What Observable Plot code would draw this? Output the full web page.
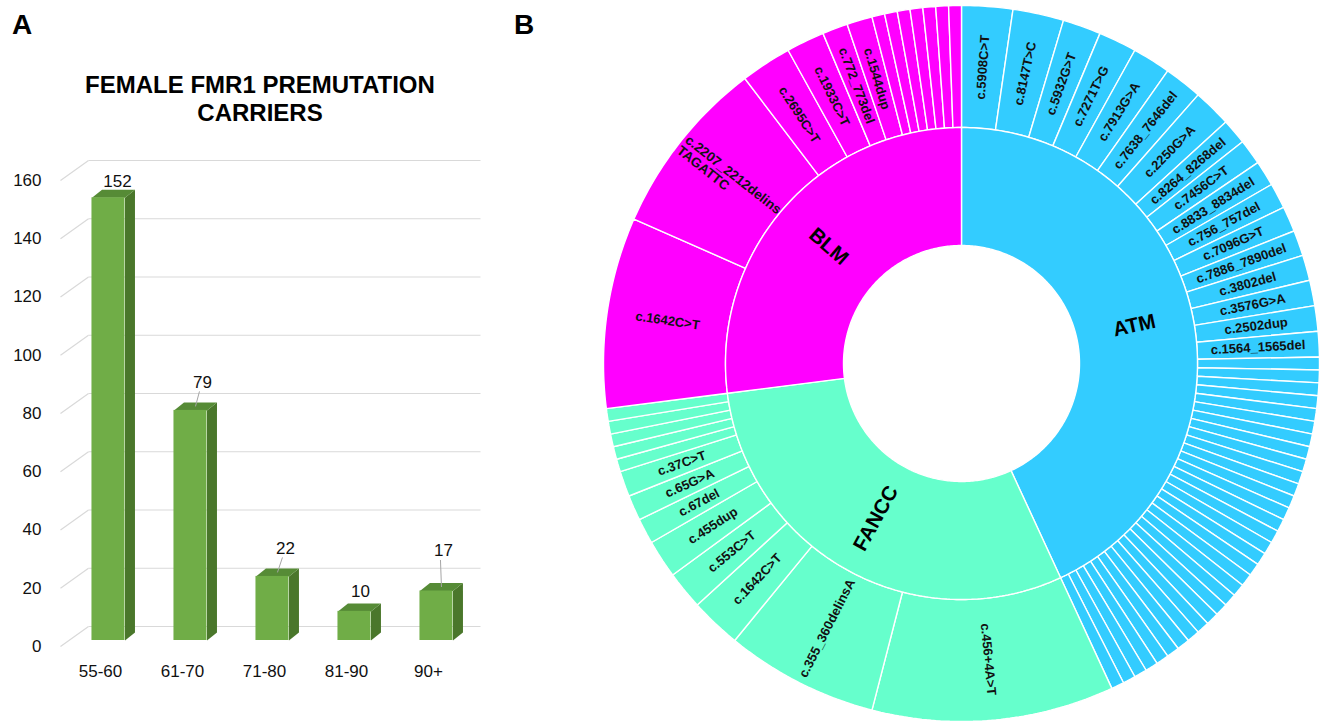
<!DOCTYPE html>
<html>
<head>
<meta charset="utf-8">
<script src="https://cdn.jsdelivr.net/npm/d3@7"></script>
<script src="https://cdn.jsdelivr.net/npm/@observablehq/plot@0.6"></script>
<style>
  html, body { margin: 0; padding: 0; background: #fff; }
  body { font-family: "Liberation Sans", Arial, sans-serif; }
  #wrap { position: relative; width: 1325px; height: 721px; overflow: hidden; }
  .panel { position: absolute; font-weight: bold; font-size: 28px; line-height: 28px; color: #000; }
  #title { position: absolute; left: 60px; width: 400px; top: 71px; text-align: center;
           font-weight: bold; font-size: 24px; line-height: 28px; color: #000; }
  #barchart { position: absolute; left: 0; top: 131px; }
  #sunburst { position: absolute; left: 600px; top: 0; }
</style>
</head>
<body>
<div id="wrap">
  <div class="panel" style="left:12px;top:11px;">A</div>
  <div class="panel" style="left:514px;top:11px;">B</div>
  <div id="title">FEMALE FMR1 PREMUTATION<br>CARRIERS</div>
  <div id="barchart"></div>
  <div id="sunburst"></div>
</div>
<script>
// ---------------- DATA ----------------
// Panel A
const ageGroups = ["55-60", "61-70", "71-80", "81-90", "90+"];
const carriers = [152, 79, 22, 10, 17];
const yTicks = [0, 20, 40, 60, 80, 100, 120, 140, 160];

// Panel B (clockwise from 12 o'clock)
const genes = ["ATM", "FANCC", "BLM"];
const geneColors = ["#33ccff", "#66ffcc", "#ff00ff"];

const atmVariants = ["c.5908C>T", "c.8147T>C", "c.5932G>T", "c.7271T>G", "c.7913G>A", "c.7638_7646del",
  "c.2250G>A", "c.8264_8268del", "c.7456C>T", "c.8833_8834del", "c.756_757del", "c.7096G>T",
  "c.7886_7890del", "c.3802del", "c.3576G>A", "c.2502dup", "c.1564_1565del",
  "", "", "", "", "", "", "", "", "", "", "", "", "", "", "", "",
  "", "", "", "", "", "", "", "", "", "", "", "", "", "", "", ""];
const atmCounts = [4, 4, 3, 3, 3, 3, 3, 2, 2, 2, 2, 2, 2, 2, 2, 2, 2,
  1, 1, 1, 1, 1, 1, 1, 1, 1, 1, 1, 1, 1, 1, 1, 1,
  1, 1, 1, 1, 1, 1, 1, 1, 1, 1, 1, 1, 1, 1, 1, 1];

const fanccVariants = ["c.456+4A>T", "c.355_360delinsA", "c.1642C>T", "c.553C>T", "c.455dup",
  "c.67del", "c.65G>A", "c.37C>T", "", "", "", "", ""];
const fanccCounts = [19, 12, 4, 3, 3, 2, 2, 2, 1, 1, 1, 1, 1];

const blmVariants = ["c.1642C>T", "c.2207_2212delins\nTAGATTC", "c.2695C>T", "c.1933C>T",
  "c.772_773del", "c.1544dup", "", "", "", "", "", "", ""];
const blmCounts = [15, 14, 4, 3, 2, 2, 1, 1, 1, 1, 1, 1, 1];

// ---------------- PANEL A ----------------
(function () {
  const W = 490, H = 560, mL = 60, mR = 10, mT = 49, mB = 45;
  const xDom = [-0.585, 4.537];
  const kx = (W - mL - mR) / (xDom[1] - xDom[0]);
  const ky = (H - mT - mB) / 160;
  const wallDx = 28 / kx, wallDy = 20 / ky;     // back-wall depth
  const barDx = 10 / kx, barDy = 8 / ky;        // bar depth
  const base = 6 / ky;                          // bar front set back
  const halfW = 16.5 / kx;
  // data-label placement (pixels: right shift, lift above the bar's top face)
  const labelShift = [9, 12, 13, 6, 7];
  const labelLift = [8, 20, 20, 12, 32];

  const bars = ageGroups.map((g, i) => ({g, i, v: carriers[i]}));
  const side = [], top = [];
  bars.forEach(b => {
    const xr = b.i + halfW, xl = b.i - halfW, y0 = base, y1 = base + b.v;
    [[xr, y0], [xr + barDx, y0 + barDy], [xr + barDx, y1 + barDy], [xr, y1], [xr, y0]]
      .forEach(([x, y]) => side.push({id: b.g, x, y}));
    [[xl, y1], [xl + barDx, y1 + barDy], [xr + barDx, y1 + barDy], [xr, y1], [xl, y1]]
      .forEach(([x, y]) => top.push({id: b.g, x, y}));
  });
  const labelPos = bars.map(b => ({
    ...b,
    lx: b.i + labelShift[b.i] / kx,
    ly: base + b.v + barDy + labelLift[b.i] / ky
  }));
  const leaders = labelPos.filter(b => labelLift[b.i] > 15);

  const chart = Plot.plot({
    width: W, height: H,
    marginLeft: mL, marginRight: mR, marginTop: mT, marginBottom: mB,
    style: {fontFamily: "Liberation Sans, Arial, sans-serif", background: "transparent", overflow: "visible"},
    x: {domain: xDom, axis: null},
    y: {domain: [0, 160], axis: null},
    marks: [
      Plot.link(yTicks, {x1: () => xDom[0], x2: () => xDom[0] + wallDx, y1: d => d, y2: d => d + wallDy,
        stroke: "#d9d9d9", strokeWidth: 1.2}),
      Plot.link(yTicks, {x1: () => xDom[0] + wallDx, x2: () => xDom[1], y1: d => d + wallDy, y2: d => d + wallDy,
        stroke: "#d9d9d9", strokeWidth: 1.2}),
      Plot.line(side, {x: "x", y: "y", z: "id", fill: "#4a772b", stroke: "none"}),
      Plot.line(top, {x: "x", y: "y", z: "id", fill: "#568b36", stroke: "none"}),
      Plot.rect(bars, {x1: d => d.i - halfW, x2: d => d.i + halfW, y1: () => base, y2: d => base + d.v,
        fill: "#70ad47", inset: 0}),
      Plot.link(leaders, {x1: d => d.lx - 3 / kx, y1: d => d.ly - 9 / ky,
        x2: d => d.i + barDx / 2, y2: d => base + d.v + barDy / 2, stroke: "#a6a6a6", strokeWidth: 1}),
      Plot.text(labelPos, {x: "lx", y: "ly", text: d => String(d.v), fontSize: 17, fill: "#111"}),
      Plot.text(bars, {x: "i", y: () => 0, text: "g", dy: 25, dx: -8, fontSize: 17, fill: "#111"}),
      Plot.text(yTicks, {x: () => xDom[0], y: d => d, text: d => String(d), dx: -19, textAnchor: "end",
        fontSize: 17, fill: "#111"})
    ]
  });
  document.getElementById("barchart").appendChild(chart);
})();

// ---------------- PANEL B ----------------
(function () {
  const W = 725, H = 721;
  const R0 = 118, R1 = 236, R2 = 358;
  const groups = [
    {gene: "ATM", names: atmVariants, counts: atmCounts},
    {gene: "FANCC", names: fanccVariants, counts: fanccCounts},
    {gene: "BLM", names: blmVariants, counts: blmCounts}
  ];
  const total = d3.sum(groups, g => d3.sum(g.counts));
  const unit = 360 / total;
  const rad = a => a * Math.PI / 180;
  const pts = [];
  const labels = [];
  const rot = a => (a <= 180 ? a - 90 : a - 270);

  function wedge(id, gene, a0, a1, r0, r1) {
    const n = Math.max(2, Math.ceil((a1 - a0) / 0.75));
    const ring = [];
    for (let k = 0; k <= n; k++) { const a = a0 + (a1 - a0) * k / n; ring.push([r1 * Math.sin(rad(a)), r1 * Math.cos(rad(a))]); }
    for (let k = n; k >= 0; k--) { const a = a0 + (a1 - a0) * k / n; ring.push([r0 * Math.sin(rad(a)), r0 * Math.cos(rad(a))]); }
    ring.push(ring[0]);
    ring.forEach(([x, y]) => pts.push({id, gene, x, y}));
  }

  let cursor = 0;
  groups.forEach(g => {
    const gStart = cursor;
    g.counts.forEach((c, j) => {
      const a0 = cursor, a1 = cursor + c * unit;
      wedge(g.gene + "-" + j, g.gene, a0, a1, R1, R2);
      if (g.names[j]) {
        const m = (a0 + a1) / 2;
        const multi = g.names[j].includes("\n");
        const r = multi ? R2 - 3 : (R1 + R2) / 2;
        labels.push({text: g.names[j], multi, x: r * Math.sin(rad(m)), y: r * Math.cos(rad(m)), rotate: rot(m), kind: "variant"});
      }
      cursor = a1;
    });
    wedge(g.gene, g.gene, gStart, cursor, R0, R1);
    const m = (gStart + cursor) / 2, r = (R0 + R1) / 2;
    labels.push({text: g.gene, x: r * Math.sin(rad(m)), y: r * Math.cos(rad(m)), rotate: rot(m), kind: "gene"});
  });

  const singleLabels = labels.filter(d => d.kind === "variant" && !d.multi);
  const multiLabels = labels.filter(d => d.kind === "variant" && d.multi);
  const geneLabels = labels.filter(d => d.kind === "gene");

  const chart = Plot.plot({
    width: W, height: H, margin: 0,
    style: {fontFamily: "Liberation Sans, Arial, sans-serif", background: "transparent", overflow: "visible"},
    x: {domain: [-361, 364], axis: null},
    y: {domain: [-358, 363], axis: null},
    color: {domain: genes, range: geneColors},
    marks: [
      Plot.line(pts, {x: "x", y: "y", z: "id", fill: "gene", stroke: "white", strokeWidth: 1.4, strokeLinejoin: "miter"}),
      Plot.text(singleLabels, {x: "x", y: "y", text: "text", rotate: "rotate", fontSize: 13, fontWeight: "bold", fill: "#111"}),
      Plot.text(multiLabels, {x: "x", y: "y", text: "text", rotate: "rotate", textAnchor: "start", lineHeight: 1.0,
        fontSize: 13.5, fontWeight: "bold", fill: "#111"}),
      Plot.text(geneLabels, {x: "x", y: "y", text: "text", rotate: "rotate", fontSize: 20.5, fontWeight: "bold", fill: "#000"})
    ]
  });
  document.getElementById("sunburst").appendChild(chart);
})();
</script>
</body>
</html>
